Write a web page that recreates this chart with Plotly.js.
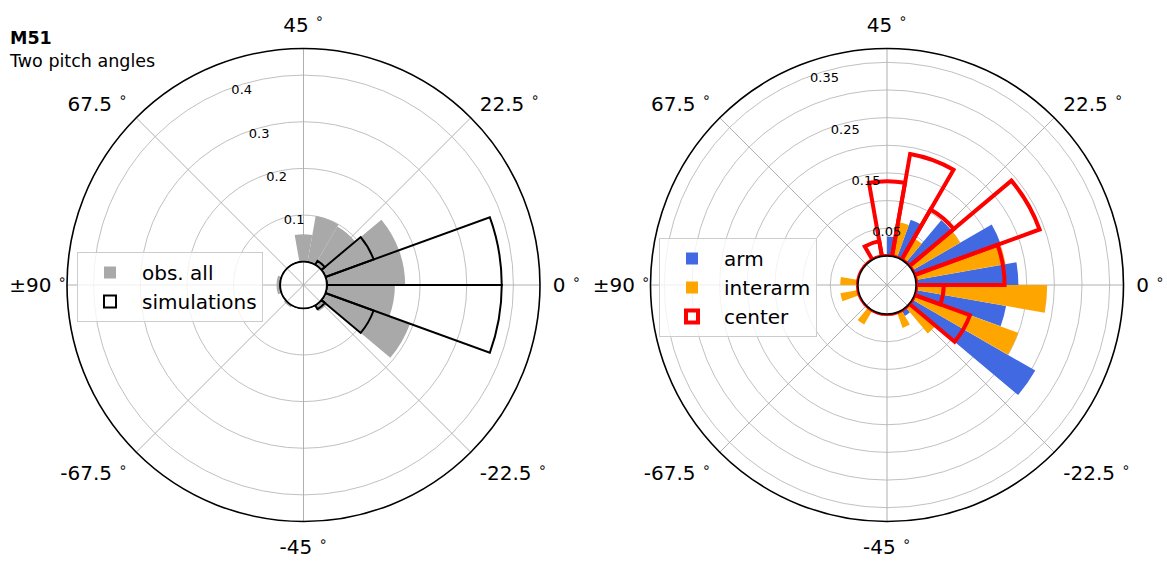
<!DOCTYPE html>
<html>
<head>
<meta charset="utf-8">
<script src="https://cdn.plot.ly/plotly-3.0.1.min.js"></script>
<style>html,body{margin:0;padding:0;background:#fff;}#chart{width:1167px;height:562px;}</style>
</head>
<body>
<div id="chart"></div>
<script>
// Pitch-angle bins (degrees), 10 deg wide; drawn at twice the pitch angle
const pitchCenters = [-85,-75,-65,-55,-45,-35,-25,-15,-5,5,15,25,35,45,55,65,75,85];
const binWidth = 10;

// Left panel: M51, all observations vs simulations (normalised)
const obsAll      = [0.008,0,0.005,0,0,0,0.015,0.193,0.146,0.168,0.168,0.095,0.100,0.059,0,0,0,0.008];
const simulations = [0,0,0,0,0,0,0.010,0.110,0.375,0.375,0.110,0.010,0,0,0,0,0,0];

// Right panel: arm / interarm / center
const arm      = [0,0,0,0,0,0,0.012,0.257,0.166,0.185,0.166,0.100,0.073,0.035,0,0,0,0];
const interarm = [0.033,0,0.030,0,0,0.030,0.062,0.200,0.237,0.165,0.100,0.045,0.063,0,0,0,0,0.032];
const center   = [0,0,0,0,0,0,0,0.107,0.050,0.160,0.241,0.105,0.188,0.135,0.028,0,0,0];

// Angular tick labels (pitch angle in degrees)
const angleTickPitch = [0,22.5,45,67.5,90,-67.5,-45,-22.5];
const leftRadialTicks  = [0.1,0.2,0.3,0.4];
const rightRadialTicks = [0.05,0.10,0.15,0.20,0.25,0.30,0.35];
const rightRadialLabels = ['0.05','','0.15','','0.25','','0.35'];

const disp = a => a.map(p => 2*p);
const thetaFull = disp(pitchCenters);
const thetaArm = disp(pitchCenters.map(p => p - binWidth/4));
const thetaInter = disp(pitchCenters.map(p => p + binWidth/4));
const edges = [];
for (let i = 0; i < pitchCenters.length; i++) { edges.push(pitchCenters[i]-binWidth/2, pitchCenters[i]); }
edges.push(pitchCenters[pitchCenters.length-1]+binWidth/2);
const baseTheta = disp(edges);
const baseR = baseTheta.map(() => 0);

const tickVal = p => ((2*p)%360+360)%360;
const tickTxt = p => (p===90 ? '±90' : String(p)) + ' <sup>∘</sup>';
const mainTicks = angleTickPitch.filter(p => Math.abs(p) !== 90);
const sideTicks = angleTickPitch.filter(p => Math.abs(p) === 90);

const empty = id => ({type:'scatterpolar', subplot:id, r:[], theta:[], showlegend:false, hoverinfo:'skip'});

const traces = [
  // underlays carrying the angular grid through the centre
  empty('polar'), empty('polar2'),

  {type:'barpolar', subplot:'polar3', legend:'legend', name:'obs. all',
   r:obsAll, theta:thetaFull, width:thetaFull.map(()=>2*binWidth),
   marker:{color:'#a9a9a9', line:{width:0}}, hoverinfo:'skip'},
  {type:'barpolar', subplot:'polar3', legend:'legend', name:'simulations',
   r:simulations, theta:thetaFull, width:thetaFull.map(()=>2*binWidth),
   marker:{color:'rgba(255,255,255,0)', line:{color:'black', width:2}}, hoverinfo:'skip'},
  {type:'scatterpolar', subplot:'polar3', mode:'lines', showlegend:false, cliponaxis:false,
   r:baseR, theta:baseTheta, line:{color:'black', width:2}, hoverinfo:'skip'},

  {type:'barpolar', subplot:'polar4', legend:'legend2', name:'arm',
   r:arm, theta:thetaArm, width:thetaArm.map(()=>binWidth),
   marker:{color:'#4169e1', line:{width:0}}, hoverinfo:'skip'},
  {type:'barpolar', subplot:'polar4', legend:'legend2', name:'interarm',
   r:interarm, theta:thetaInter, width:thetaInter.map(()=>binWidth),
   marker:{color:'#ffa500', line:{width:0}}, hoverinfo:'skip'},
  {type:'barpolar', subplot:'polar4', legend:'legend2', name:'center',
   r:center, theta:thetaFull, width:thetaFull.map(()=>2*binWidth),
   marker:{color:'rgba(255,255,255,0)', line:{color:'#ff0000', width:4}}, hoverinfo:'skip'},
  {type:'scatterpolar', subplot:'polar4', mode:'lines', showlegend:false, cliponaxis:false,
   r:baseR, theta:baseTheta, line:{color:'#ff0000', width:4}, hoverinfo:'skip'},

  // label-only overlays for the ±90 ticks
  empty('polar5'), empty('polar6')
];

function gridAxis(){
  return {rotation:0, direction:'counterclockwise', tickmode:'array',
    tickvals:angleTickPitch.map(tickVal), showticklabels:false, ticks:'',
    showline:false, showgrid:true, gridcolor:'#b0b0b0', gridwidth:1};
}
function angAxis(ticksP){
  return {rotation:0, direction:'counterclockwise', tickmode:'array',
    tickvals:ticksP.map(tickVal), ticktext:ticksP.map(tickTxt),
    ticks:'outside', ticklen:8, tickcolor:'rgba(0,0,0,0)',
    showline:true, linecolor:'black', linewidth:1.6, showgrid:false,
    tickfont:{size:20, color:'black'}};
}
function sideAxis(){
  return {rotation:0, direction:'counterclockwise', tickmode:'array',
    tickvals:sideTicks.map(tickVal), ticktext:sideTicks.map(tickTxt),
    ticks:'', showline:false, showgrid:false,
    tickfont:{size:20, color:'black'}};
}
function radAxis(range, vals, text){
  return {range:range, tickmode:'array', tickvals:vals, ticktext:text,
    showline:false, ticks:'', angle:112, tickangle:112, side:'clockwise',
    showgrid:true, gridcolor:'#b0b0b0', gridwidth:0.8,
    tickfont:{size:13, color:'black'}};
}

const W = 1167, H = 562;
const R = 236.5;
function dom(cx, cy){
  return {x:[(cx-R)/W, (cx+R)/W], y:[(H-cy-R)/H, (H-cy+R)/H]};
}
const leftDom = dom(303.5,285), rightDom = dom(887,285);
const leftRange = [0,0.457], rightRange = [0,0.375];
const leftHole = 0.0985, rightHole = 0.123;

const legendBase = {xanchor:'left', yanchor:'top', itemwidth:54,
  bgcolor:'rgba(255,255,255,0.8)', bordercolor:'#cccccc', borderwidth:1,
  font:{size:20, color:'black'}};

const layout = {
  width:W, height:H, margin:{l:0,r:0,t:0,b:0},
  paper_bgcolor:'white', plot_bgcolor:'white',
  font:{family:'DejaVu Sans, sans-serif', color:'black'},
  title:{text:'<b>M51</b><br>Two pitch angles', x:10/W, xanchor:'left', xref:'paper',
         y:1-44/H, yanchor:'top', yref:'paper', font:{size:17.5, color:'black'}},
  barmode:'overlay',
  polar:{domain:leftDom, hole:0, bgcolor:'white',
         angularaxis:gridAxis(), radialaxis:{visible:false, range:leftRange}},
  polar2:{domain:rightDom, hole:0, bgcolor:'white',
         angularaxis:gridAxis(), radialaxis:{visible:false, range:rightRange}},
  polar3:{domain:leftDom, hole:leftHole, bgcolor:'rgba(0,0,0,0)', barmode:'overlay',
         angularaxis:angAxis(mainTicks),
         radialaxis:radAxis(leftRange, leftRadialTicks, leftRadialTicks.map(String))},
  polar4:{domain:rightDom, hole:rightHole, bgcolor:'rgba(0,0,0,0)', barmode:'overlay',
         angularaxis:angAxis(mainTicks),
         radialaxis:radAxis(rightRange, rightRadialTicks, rightRadialLabels)},
  polar5:{domain:leftDom, hole:leftHole, bgcolor:'rgba(0,0,0,0)',
         angularaxis:sideAxis(), radialaxis:{visible:false, range:leftRange}},
  polar6:{domain:rightDom, hole:rightHole, bgcolor:'rgba(0,0,0,0)',
         angularaxis:sideAxis(), radialaxis:{visible:false, range:rightRange}},
  legend:Object.assign({x:77/W, y:1-252/H}, legendBase),
  legend2:Object.assign({x:659/W, y:1-238/H}, legendBase),
  showlegend:true
};

Plotly.newPlot('chart', traces, layout, {staticPlot:true, displayModeBar:false});
</script>
</body>
</html>
